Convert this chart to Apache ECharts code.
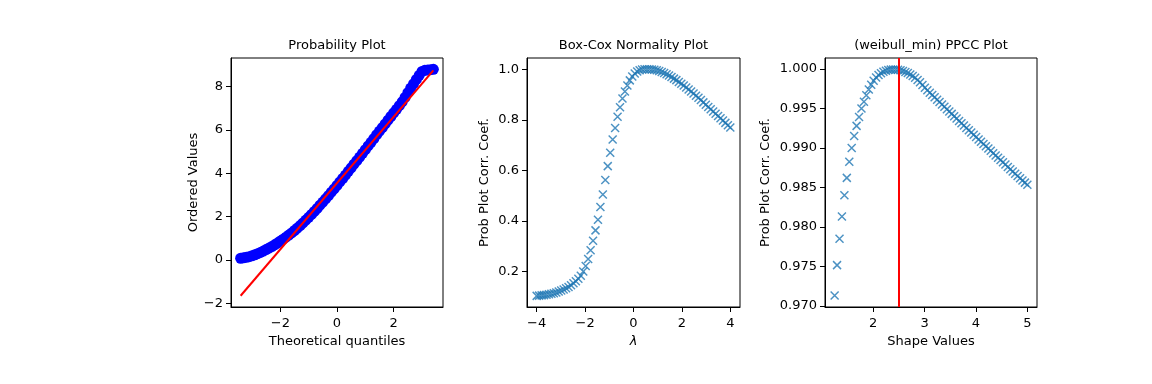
<!DOCTYPE html>
<html>
<head>
<meta charset="utf-8">
<script src="https://cdn.jsdelivr.net/npm/echarts@6/dist/echarts.min.js"></script>
<style>html,body{margin:0;padding:0;background:#fff;}#c{width:1152px;height:384px;}</style>
</head>
<body>
<div id="c"></div>
<script>
// ---- Panel 1: probability plot ----
const probQuantiles = [-3.4,-3.3,-3.2,-3.1,-3.0,-2.9,-2.8,-2.7,-2.6,-2.5,-2.4,-2.3,-2.2,-2.1,-2.0,-1.9,-1.8,-1.7,-1.6,-1.5,-1.4,-1.3,-1.2,-1.1,-1.0,-0.9,-0.8,-0.7,-0.6,-0.5,-0.4,-0.3,-0.2,-0.1,0.0,0.1,0.2,0.3,0.4,0.5,0.6,0.7,0.8,0.9,1.0,1.1,1.2,1.3,1.4,1.5,1.6,1.7,1.8,1.9,2.0,2.1,2.2,2.3,2.4,2.5,2.6,2.7,2.8,2.9,3.0,3.1,3.2,3.3,3.4];
const probOrdered = [0.08,0.10,0.12,0.15,0.19,0.24,0.29,0.35,0.41,0.48,0.55,0.62,0.70,0.78,0.87,0.96,1.05,1.15,1.25,1.36,1.47,1.59,1.71,1.84,1.97,2.10,2.24,2.38,2.53,2.67,2.82,2.97,3.13,3.28,3.44,3.60,3.76,3.92,4.09,4.25,4.42,4.58,4.75,4.92,5.09,5.26,5.43,5.60,5.78,5.95,6.11,6.28,6.45,6.62,6.79,6.95,7.12,7.30,7.50,7.72,7.93,8.13,8.33,8.52,8.70,8.75,8.77,8.78,8.80];
const fitLineX = [-3.40, 3.40];
const fitLineY = [-1.65, 8.75];

// ---- Panel 2: Box-Cox normality plot ----
const lambdas = [-4.000,-3.899,-3.797,-3.696,-3.595,-3.494,-3.392,-3.291,-3.190,-3.089,-2.987,-2.886,-2.785,-2.684,-2.582,-2.481,-2.380,-2.278,-2.177,-2.076,-1.975,-1.873,-1.772,-1.671,-1.570,-1.468,-1.367,-1.266,-1.165,-1.063,-0.962,-0.861,-0.759,-0.658,-0.557,-0.456,-0.354,-0.253,-0.152,-0.051,0.051,0.152,0.253,0.354,0.456,0.557,0.658,0.759,0.861,0.962,1.063,1.165,1.266,1.367,1.468,1.570,1.671,1.772,1.873,1.975,2.076,2.177,2.278,2.380,2.481,2.582,2.684,2.785,2.886,2.987,3.089,3.190,3.291,3.392,3.494,3.595,3.696,3.797,3.899,4.000];
const boxcoxCorr = [0.104,0.105,0.106,0.107,0.108,0.110,0.112,0.114,0.117,0.121,0.125,0.129,0.134,0.139,0.146,0.154,0.162,0.172,0.184,0.200,0.222,0.250,0.284,0.322,0.363,0.405,0.455,0.505,0.562,0.617,0.670,0.722,0.768,0.812,0.850,0.884,0.912,0.936,0.956,0.971,0.983,0.991,0.996,0.999,1.000,1.000,1.000,0.999,0.998,0.996,0.993,0.989,0.985,0.980,0.975,0.969,0.963,0.957,0.950,0.943,0.936,0.928,0.920,0.912,0.904,0.895,0.887,0.878,0.869,0.860,0.851,0.842,0.833,0.824,0.815,0.806,0.797,0.788,0.779,0.770];

// ---- Panel 3: PPCC plot (weibull_min) ----
const shapeValues = [1.250,1.297,1.345,1.392,1.440,1.487,1.535,1.582,1.630,1.677,1.725,1.772,1.820,1.867,1.915,1.962,2.009,2.057,2.104,2.152,2.199,2.247,2.294,2.342,2.389,2.437,2.484,2.532,2.579,2.627,2.674,2.722,2.769,2.816,2.864,2.911,2.959,3.006,3.054,3.101,3.149,3.196,3.244,3.291,3.339,3.386,3.434,3.481,3.528,3.576,3.623,3.671,3.718,3.766,3.813,3.861,3.908,3.956,4.003,4.051,4.098,4.146,4.193,4.241,4.288,4.335,4.383,4.430,4.478,4.525,4.573,4.620,4.668,4.715,4.763,4.810,4.858,4.905,4.953,5.000];
const ppccCorr = [0.97133,0.97517,0.97850,0.98133,0.98400,0.98621,0.98825,0.99000,0.99150,0.99279,0.99392,0.99500,0.99583,0.99667,0.99738,0.99800,0.99850,0.99890,0.99922,0.99946,0.99964,0.99977,0.99986,0.99991,0.99993,0.99992,0.99988,0.99982,0.99973,0.99961,0.99947,0.99930,0.99910,0.99887,0.99860,0.99831,0.99797,0.99762,0.99730,0.99699,0.99669,0.99640,0.99610,0.99580,0.99550,0.99520,0.99490,0.99460,0.99431,0.99401,0.99371,0.99342,0.99312,0.99283,0.99253,0.99224,0.99195,0.99166,0.99137,0.99108,0.99079,0.99050,0.99021,0.98992,0.98963,0.98934,0.98905,0.98876,0.98847,0.98818,0.98789,0.98760,0.98731,0.98702,0.98673,0.98645,0.98617,0.98589,0.98561,0.98533];
const trueShape = 2.5;

// ---- Tick labels ----
const p1XTicks = [-2, 0, 2];
const p1YTicks = [-2, 0, 2, 4, 6, 8];
const p2XTicks = [-4, -2, 0, 2, 4];
const p2YTicks = [0.2, 0.4, 0.6, 0.8, 1.0];
const p3XTicks = [2, 3, 4, 5];
const p3YTicks = [0.970, 0.975, 0.980, 0.985, 0.990, 0.995, 1.000];

const titles = ['Probability Plot', 'Box-Cox Normality Plot', '(weibull_min) PPCC Plot'];

const FONT = 'DejaVu Sans';
const grids = [
  {left: 231, top: 58, width: 212, height: 249},
  {left: 527, top: 58, width: 213, height: 249},
  {left: 825, top: 58, width: 212, height: 249}
];
const minus = s => String(s).replace('-', '\u2212');

function axis(gridIndex, isX, min, max, ticks, fmt, name, nameGap, nameStyle) {
  return {
    type: 'value', gridIndex, min, max,
    position: isX ? 'bottom' : 'left',
    name, nameLocation: 'middle', nameGap,
    nameTextStyle: Object.assign({fontFamily: FONT, fontSize: 13, color: '#000'}, nameStyle || {}),
    axisLine: {show: true, onZero: false, lineStyle: {color: '#000', width: 1}},
    axisTick: {show: true, inside: false, length: 5, customValues: ticks, lineStyle: {color: '#000', width: 1}},
    axisLabel: {show: true, customValues: ticks, margin: isX ? 10 : 8, fontFamily: FONT, fontSize: 13, color: '#000', formatter: fmt},
    splitLine: {show: false}
  };
}

const xSym = 'path://M0,0L10,10M10,0L0,10';

const option = {
  animation: false,
  backgroundColor: '#fff',
  title: titles.map((t, i) => ({
    text: t, left: grids[i].left + grids[i].width / 2, top: 39, textAlign: 'center', padding: 0,
    textStyle: {fontFamily: FONT, fontSize: 13, fontWeight: 'normal', color: '#000'}
  })),
  grid: grids.map(g => Object.assign({show: true, borderColor: '#000', borderWidth: 1, backgroundColor: 'transparent', containLabel: false}, g)),
  xAxis: [
    axis(0, true, -3.74, 3.74, p1XTicks, v => minus(v), 'Theoretical quantiles', 27),
    axis(1, true, -4.4, 4.4, p2XTicks, v => minus(v), '\u03bb', 26, {fontStyle: 'italic'}),
    axis(2, true, 1.0625, 5.1875, p3XTicks, v => minus(v), 'Shape Values', 27)
  ],
  yAxis: [
    axis(0, false, -2.17, 9.32, p1YTicks, v => minus(v), 'Ordered Values', 31),
    axis(1, false, 0.060, 1.0445, p2YTicks, v => v.toFixed(1), 'Prob Plot Corr. Coef.', 36),
    axis(2, false, 0.96987, 1.00138, p3YTicks, v => v.toFixed(3), 'Prob Plot Corr. Coef.', 53)
  ],
  series: [
    {
      type: 'scatter', xAxisIndex: 0, yAxisIndex: 0,
      data: probQuantiles.map((x, i) => [x, probOrdered[i]]),
      symbol: 'circle', symbolSize: 11,
      itemStyle: {color: '#0000ff', opacity: 1}, silent: true, z: 2
    },
    {
      type: 'line', xAxisIndex: 0, yAxisIndex: 0,
      data: fitLineX.map((x, i) => [x, fitLineY[i]]),
      showSymbol: false, lineStyle: {color: '#ff0000', width: 2}, silent: true, z: 3
    },
    {
      type: 'scatter', xAxisIndex: 1, yAxisIndex: 1,
      data: lambdas.map((x, i) => [x, boxcoxCorr[i]]),
      symbol: xSym, symbolSize: 8,
      itemStyle: {color: 'rgba(0,0,0,0)', borderColor: '#1f77b4', borderWidth: 1.45}, silent: true
    },
    {
      type: 'scatter', xAxisIndex: 2, yAxisIndex: 2,
      data: shapeValues.map((x, i) => [x, ppccCorr[i]]),
      symbol: xSym, symbolSize: 8,
      itemStyle: {color: 'rgba(0,0,0,0)', borderColor: '#1f77b4', borderWidth: 1.45}, silent: true,
      markLine: {
        silent: true, symbol: ['none', 'none'], animation: false,
        label: {show: false},
        lineStyle: {color: '#ff0000', width: 2, type: 'solid'},
        emphasis: {disabled: true},
        data: [{xAxis: trueShape}]
      }
    }
  ]
};

const chart = echarts.init(document.getElementById('c'), null, {renderer: 'canvas'});
chart.setOption(option);
</script>
</body>
</html>
